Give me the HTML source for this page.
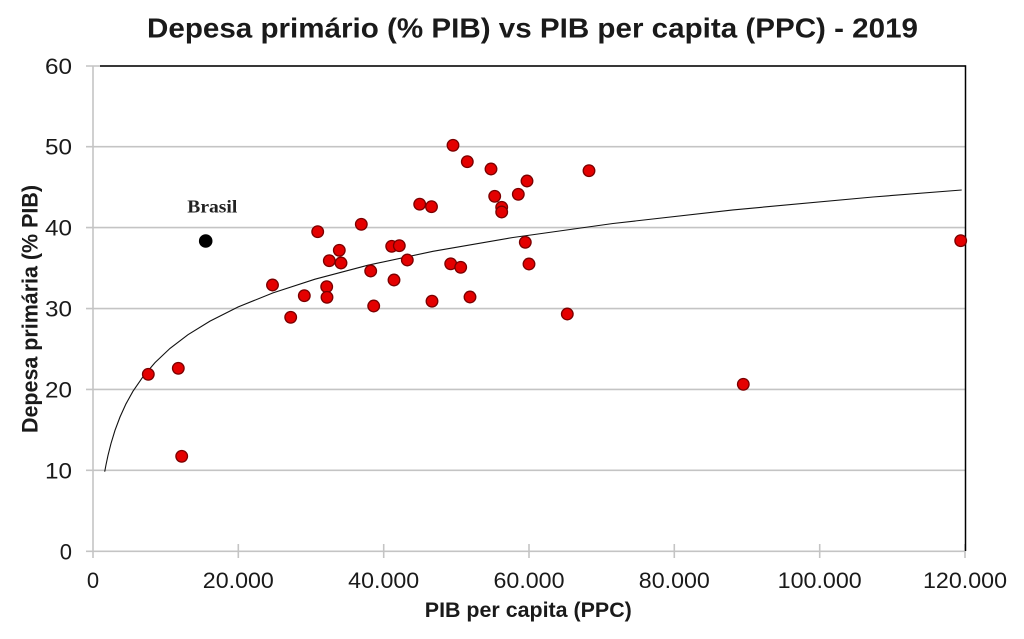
<!DOCTYPE html>
<html>
<head>
<meta charset="utf-8">
<style>
  html,body{margin:0;padding:0;background:#fff;}
  svg{display:block;}
  text{font-family:"Liberation Sans",Arial,sans-serif;fill:#1a1a1a;}
</style>
</head>
<body>
<svg width="1024" height="639" viewBox="0 0 1024 639" xmlns="http://www.w3.org/2000/svg">
  <rect width="1024" height="639" fill="#fff"/>

  <!-- Title -->
  <text x="532.5" y="37.5" text-anchor="middle" font-size="28" font-weight="bold" textLength="771" lengthAdjust="spacingAndGlyphs">Depesa primário (% PIB) vs PIB per capita (PPC) - 2019</text>

  <!-- gridlines -->
  <g stroke="#c4c4c4" stroke-width="1.6">
    <line x1="86" y1="66" x2="965" y2="66"/>
    <line x1="86" y1="146.7" x2="965" y2="146.7"/>
    <line x1="86" y1="227.6" x2="965" y2="227.6"/>
    <line x1="86" y1="308.6" x2="965" y2="308.6"/>
    <line x1="86" y1="389.4" x2="965" y2="389.4"/>
    <line x1="86" y1="470.3" x2="965" y2="470.3"/>
    <line x1="86" y1="551.3" x2="965" y2="551.3"/>
    <!-- y axis -->
    <line x1="93" y1="66" x2="93" y2="558"/>
    <!-- x ticks -->
    <line x1="238.3" y1="544" x2="238.3" y2="558"/>
    <line x1="383.7" y1="544" x2="383.7" y2="558"/>
    <line x1="529" y1="544" x2="529" y2="558"/>
    <line x1="674.3" y1="544" x2="674.3" y2="558"/>
    <line x1="819.7" y1="544" x2="819.7" y2="558"/>
    <line x1="965" y1="544" x2="965" y2="558"/>
  </g>
  <!-- plot border top/right -->
  <g stroke="#000" stroke-width="1.5">
    <line x1="100" y1="66" x2="965.5" y2="66"/>
    <line x1="965.5" y1="65.3" x2="965.5" y2="551"/>
  </g>

  <!-- y tick labels -->
  <g font-size="22" text-anchor="end">
    <text x="72" y="74" textLength="27" lengthAdjust="spacingAndGlyphs">60</text>
    <text x="72" y="154.7" textLength="27" lengthAdjust="spacingAndGlyphs">50</text>
    <text x="72" y="235.6" textLength="27" lengthAdjust="spacingAndGlyphs">40</text>
    <text x="72" y="316.6" textLength="27" lengthAdjust="spacingAndGlyphs">30</text>
    <text x="72" y="397.4" textLength="27" lengthAdjust="spacingAndGlyphs">20</text>
    <text x="72" y="478.3" textLength="27" lengthAdjust="spacingAndGlyphs">10</text>
    <text x="72" y="559.3">0</text>
  </g>

  <!-- x tick labels -->
  <g font-size="22" text-anchor="middle">
    <text x="93" y="588">0</text>
    <text x="238.3" y="588" textLength="71" lengthAdjust="spacingAndGlyphs">20.000</text>
    <text x="383.7" y="588" textLength="71" lengthAdjust="spacingAndGlyphs">40.000</text>
    <text x="529" y="588" textLength="71" lengthAdjust="spacingAndGlyphs">60.000</text>
    <text x="674.3" y="588" textLength="71" lengthAdjust="spacingAndGlyphs">80.000</text>
    <text x="819.7" y="588" textLength="84" lengthAdjust="spacingAndGlyphs">100.000</text>
    <text x="965" y="588" textLength="84" lengthAdjust="spacingAndGlyphs">120.000</text>
  </g>

  <!-- axis titles -->
  <text x="528.3" y="617" text-anchor="middle" font-size="21" font-weight="bold" textLength="207" lengthAdjust="spacingAndGlyphs">PIB per capita (PPC)</text>
  <text transform="translate(37.5,309) rotate(-90)" x="0" y="0" text-anchor="middle" font-size="22" font-weight="bold" textLength="248" lengthAdjust="spacingAndGlyphs">Depesa primária (% PIB)</text>

  <!-- trend curve -->
  <polyline fill="none" stroke="#111" stroke-width="1.1" points="104.7,471.7 106,464.8 108,455.4 111,443.5 115,430.3 120,417.0 126,403.8 133,391.2 143,376.7 155,362.6 170,348.4 188,334.7 210,321.1 238,307.0 273,292.9 315,279.2 368,265.2 433,251.3 513,237.5 613,223.5 733,209.9 873,197.0 961.7,190"/>

  <!-- data points -->
  <g fill="#e40000" stroke="#7a0000" stroke-width="1.3">
    <circle cx="148.3" cy="374.3" r="5.8"/>
    <circle cx="178.3" cy="368.3" r="5.8"/>
    <circle cx="181.7" cy="456.3" r="5.8"/>
    <circle cx="272.5" cy="285" r="5.8"/>
    <circle cx="290.7" cy="317.3" r="5.8"/>
    <circle cx="304.3" cy="295.7" r="5.8"/>
    <circle cx="317.7" cy="231.7" r="5.8"/>
    <circle cx="326.7" cy="286.7" r="5.8"/>
    <circle cx="327" cy="297.3" r="5.8"/>
    <circle cx="329.3" cy="260.7" r="5.8"/>
    <circle cx="339.3" cy="250.3" r="5.8"/>
    <circle cx="341" cy="263" r="5.8"/>
    <circle cx="361.3" cy="224.3" r="5.8"/>
    <circle cx="370.7" cy="271" r="5.8"/>
    <circle cx="373.7" cy="306" r="5.8"/>
    <circle cx="391.7" cy="246.3" r="5.8"/>
    <circle cx="394" cy="280" r="5.8"/>
    <circle cx="399.3" cy="245.7" r="5.8"/>
    <circle cx="407.3" cy="260" r="5.8"/>
    <circle cx="419.7" cy="204.2" r="5.8"/>
    <circle cx="431.5" cy="206.7" r="5.8"/>
    <circle cx="432" cy="301.2" r="5.8"/>
    <circle cx="450.7" cy="263.8" r="5.8"/>
    <circle cx="453" cy="145.3" r="5.8"/>
    <circle cx="460.7" cy="267.3" r="5.8"/>
    <circle cx="467.3" cy="161.7" r="5.8"/>
    <circle cx="470" cy="297" r="5.8"/>
    <circle cx="491" cy="169" r="5.8"/>
    <circle cx="494.7" cy="196.3" r="5.8"/>
    <circle cx="501.7" cy="207.3" r="5.8"/>
    <circle cx="501.7" cy="212" r="5.8"/>
    <circle cx="518.3" cy="194.3" r="5.8"/>
    <circle cx="525.3" cy="242.3" r="5.8"/>
    <circle cx="527" cy="181" r="5.8"/>
    <circle cx="529" cy="264" r="5.8"/>
    <circle cx="567.3" cy="314" r="5.8"/>
    <circle cx="589" cy="170.7" r="5.8"/>
    <circle cx="743.3" cy="384.3" r="5.8"/>
    <circle cx="960.7" cy="240.7" r="5.8"/>
  </g>
  <circle cx="205.7" cy="241" r="6.8" fill="#000"/>
  <text x="212.3" y="212.3" text-anchor="middle" font-family="'Liberation Serif',serif" font-size="18" font-weight="bold" textLength="50" lengthAdjust="spacingAndGlyphs" style="font-family:'Liberation Serif',serif;fill:#222">Brasil</text>
</svg>
</body>
</html>
